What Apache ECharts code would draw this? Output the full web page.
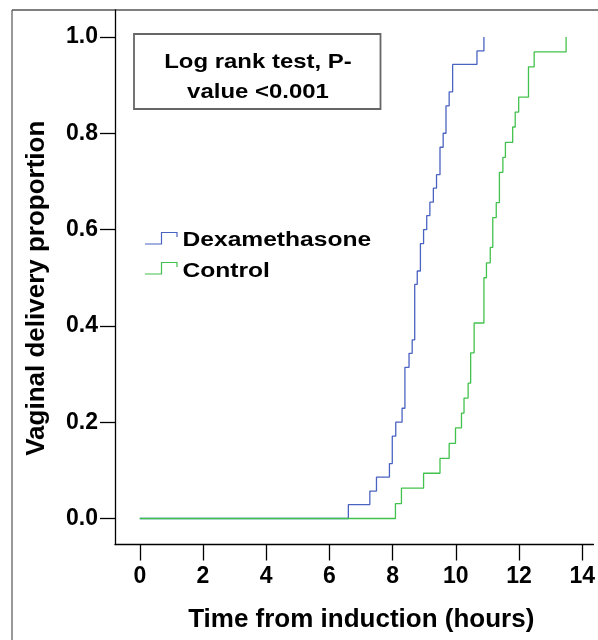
<!DOCTYPE html>
<html>
<head>
<meta charset="utf-8">
<script src="https://cdn.jsdelivr.net/npm/echarts@6/dist/echarts.min.js"></script>
<style>html,body{margin:0;padding:0;background:#fff}#c{width:598px;height:640px}</style>
</head>
<body>
<div id="c"></div>
<script>
// Dexamethasone group: [time (hours), cumulative vaginal delivery proportion]
const dexaTimes = [0, 6.6, 7.28, 7.49, 7.9, 7.99, 8.1, 8.3, 8.39, 8.52, 8.62, 8.7, 8.78, 8.88, 8.98, 9.08, 9.18, 9.29, 9.39, 9.5, 9.6, 9.69, 9.79, 9.9, 10.67, 10.89];
const dexaProp  = [0, 0.029, 0.057, 0.086, 0.114, 0.171, 0.200, 0.229, 0.314, 0.343, 0.371, 0.486, 0.514, 0.571, 0.600, 0.629, 0.657, 0.686, 0.714, 0.771, 0.800, 0.857, 0.886, 0.943, 0.971, 1.0];
// Control group
const ctrlTimes = [0, 8.09, 8.28, 8.98, 9.5, 9.79, 9.99, 10.18, 10.26, 10.39, 10.47, 10.58, 10.89, 10.97, 11.09, 11.17, 11.28, 11.38, 11.49, 11.57, 11.8, 11.88, 11.99, 12.3, 12.48, 13.49];
const ctrlProp  = [0, 0.031, 0.063, 0.094, 0.125, 0.156, 0.188, 0.219, 0.250, 0.281, 0.344, 0.406, 0.500, 0.531, 0.563, 0.625, 0.656, 0.719, 0.750, 0.781, 0.813, 0.844, 0.875, 0.938, 0.969, 1.0];

const xTicks = [0, 2, 4, 6, 8, 10, 12, 14];
const yTicks = [0, 0.2, 0.4, 0.6, 0.8, 1.0];
const seriesNames = ['Dexamethasone', 'Control'];
const xTitle = 'Time from induction (hours)';
const yTitle = 'Vaginal delivery proportion';
const boxText = 'Log rank test, P-\nvalue <0.001';

const FONT = '"Liberation Sans", Arial, sans-serif';
const BLUE = '#4a63c1';
const GREEN = '#42c24d';

const pairs = (xs, ys) => xs.map((x, i) => [x, ys[i]]);

const chart = echarts.init(document.getElementById('c'), null, {renderer: 'canvas'});
chart.setOption({
  animation: false,
  backgroundColor: '#fff',
  grid: {left: 115, top: 10, right: 0, bottom: 95.5},
  xAxis: {
    type: 'value', min: -0.784, max: 14.355,
    name: xTitle, nameLocation: 'middle', nameGap: 62,
    nameTextStyle: {fontFamily: FONT, fontWeight: 'bold', fontSize: 26, color: '#000', padding: [0, 0, 0, 14]},
    axisLine: {show: true, onZero: false, lineStyle: {color: '#000', width: 1.3}},
    axisTick: {show: true, customValues: xTicks, length: 16, lineStyle: {color: '#000', width: 1.3}},
    axisLabel: {customValues: xTicks, margin: 21, fontFamily: FONT, fontWeight: 'bold', fontSize: 23, color: '#000'},
    splitLine: {show: false}
  },
  yAxis: {
    type: 'value', min: -0.054, max: 1.056,
    name: yTitle, nameLocation: 'middle', nameGap: 65, nameRotate: 90,
    nameTextStyle: {fontFamily: FONT, fontWeight: 'bold', fontSize: 26, color: '#000', padding: [0, 22, 0, 0]},
    axisLine: {show: true, onZero: false, lineStyle: {color: '#000', width: 1.3}},
    axisTick: {show: true, customValues: yTicks, length: 15, lineStyle: {color: '#000', width: 1.3}},
    axisLabel: {customValues: yTicks, margin: 17, fontFamily: FONT, fontWeight: 'bold', fontSize: 23, color: '#000',
      formatter: v => v.toFixed(1)},
    splitLine: {show: false}
  },
  series: [
    {name: seriesNames[0], type: 'line', step: 'end', showSymbol: false, symbol: 'none',
     data: pairs(dexaTimes, dexaProp), lineStyle: {color: BLUE, width: 1.3}, itemStyle: {color: BLUE}, z: 2},
    {name: seriesNames[1], type: 'line', step: 'end', showSymbol: false, symbol: 'none',
     data: pairs(ctrlTimes, ctrlProp), lineStyle: {color: GREEN, width: 1.3}, itemStyle: {color: GREEN}, z: 3}
  ],
  graphic: [
    // outer frame
    {type: 'line', shape: {x1: 12, y1: 10, x2: 12, y2: 640}, style: {stroke: '#777', lineWidth: 1.5}, silent: true},
    {type: 'line', shape: {x1: 12, y1: 10, x2: 598, y2: 10}, style: {stroke: '#555', lineWidth: 1.5}, silent: true},
    // annotation box
    {type: 'rect', shape: {x: 134, y: 34, width: 246.5, height: 75}, style: {fill: '#fff', stroke: '#666', lineWidth: 1.8}, z: 10},
    {type: 'text', x: 258, y: 77, scaleX: 1.14, z: 11,
     style: {text: boxText, fontFamily: FONT, fontWeight: 'bold', fontSize: 21, lineHeight: 29.5, fill: '#000', align: 'center', verticalAlign: 'middle'}},
    // legend
    {type: 'polyline', shape: {points: [[145, 244], [161.5, 244], [161.5, 232.5], [177, 232.5], [177, 237]]}, style: {stroke: BLUE, lineWidth: 1.2, fill: null}, z: 11},
    {type: 'text', x: 182.5, y: 240.5, scaleX: 1.23, z: 11, style: {text: seriesNames[0], fontFamily: FONT, fontWeight: 'bold', fontSize: 20, fill: '#000', verticalAlign: 'middle'}},
    {type: 'polyline', shape: {points: [[145, 274], [161.5, 274], [161.5, 262.5], [177, 262.5], [177, 267]]}, style: {stroke: GREEN, lineWidth: 1.2, fill: null}, z: 11},
    {type: 'text', x: 182.5, y: 271, scaleX: 1.23, z: 11, style: {text: seriesNames[1], fontFamily: FONT, fontWeight: 'bold', fontSize: 20, fill: '#000', verticalAlign: 'middle'}}
  ]
});
</script>
</body>
</html>
